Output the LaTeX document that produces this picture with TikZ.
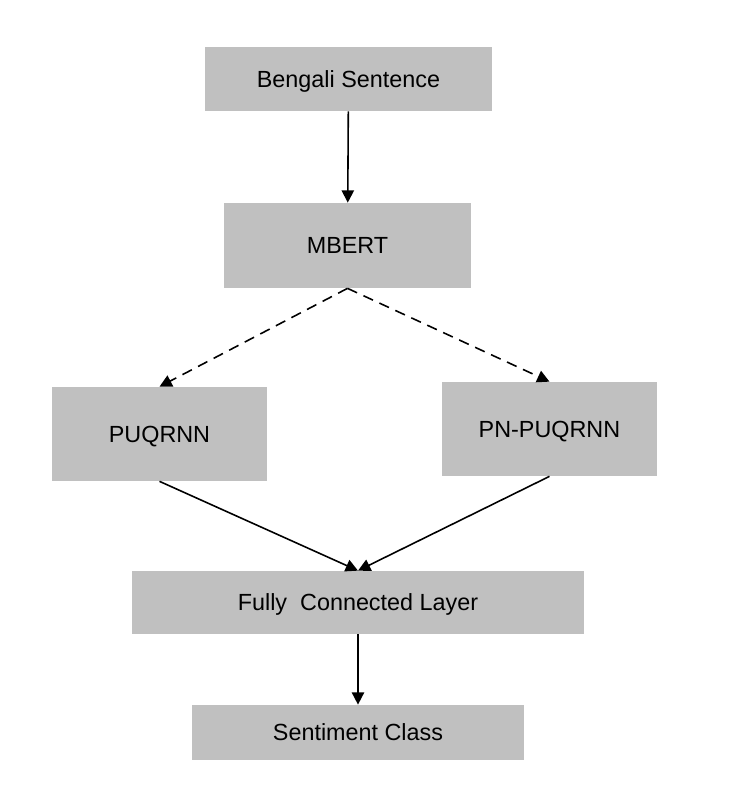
\documentclass[tikz,border=0pt]{standalone}
\usepackage{fontspec}
\setmainfont{Liberation Sans}
\usepackage{tikz}
\usetikzlibrary{arrows.meta, positioning}
\definecolor{boxgray}{RGB}{192,192,192}

\begin{document}
\begin{tikzpicture}[x=0.02cm, y=-0.02cm,
        >={Triangle[length=7pt, width=7pt]},
        box/.style={fill=boxgray, draw=none, align=center, font=\fontsize{13.3}{16}\selectfont, inner sep=0pt, text depth=0pt},
        arr/.style={->, line width=0.9pt},
        darr/.style={->, line width=0.9pt, dash pattern=on 6pt off 4pt},
    ]
    \useasboundingbox (0, 0) rectangle (729, 799);
    \node[box, minimum width=5.74cm, minimum height=1.28cm] (sent) at (348.5, 79) {Bengali Sentence};
    \node[box, minimum width=4.94cm, minimum height=1.70cm] (mbert) at (347.5, 245.5) {MBERT};
    \node[box, minimum width=4.30cm, minimum height=1.88cm] (puq) at (159.5, 434) {PUQRNN};
    \node[box, minimum width=4.30cm, minimum height=1.88cm] (pnpuq) at (549.5, 429) {PN-PUQRNN};
    \node[box, minimum width=9.04cm, minimum height=1.26cm] (fc) at (358, 602.5) {Fully\ \ Connected Layer};
    \node[box, minimum width=6.64cm, minimum height=1.10cm] (cls) at (358, 732.5) {Sentiment Class};
    % main flow
    \draw[arr] (sent) -- (mbert);
    \draw[darr] (mbert.south) -- (puq.north);
    \draw[darr] (mbert.south) -- (pnpuq.north);
    \draw[arr] (puq.south) -- (fc.north);
    \draw[arr] (pnpuq.south) -- (fc.north);
    \draw[arr] (fc) -- (cls);
\end{tikzpicture}
\end{document}
